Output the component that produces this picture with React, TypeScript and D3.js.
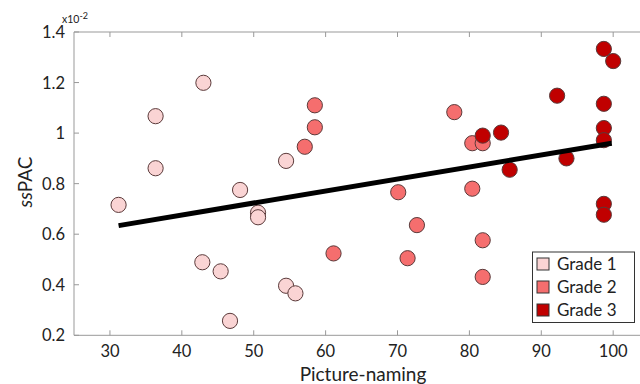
import React from "react";
import * as d3 from "d3";

const grade1X = [43, 36.35, 36.35, 48.1, 54.5, 31.2, 50.6, 50.6, 42.85, 45.4, 54.5, 55.8, 46.7];
const grade1Y = [1.199, 1.067, 0.861, 0.775, 0.89, 0.716, 0.685, 0.667, 0.489, 0.453, 0.396, 0.366, 0.257];
const grade2X = [58.5, 58.5, 57.1, 77.9, 80.4, 81.85, 70.1, 80.4, 72.7, 61.1, 71.4, 81.85, 81.85];
const grade2Y = [1.11, 1.023, 0.946, 1.083, 0.96, 0.96, 0.766, 0.78, 0.636, 0.524, 0.505, 0.576, 0.431];
const grade3X = [98.7, 100, 92.2, 98.7, 98.7, 98.7, 81.85, 84.4, 93.5, 85.6, 98.7, 98.7];
const grade3Y = [1.333, 1.285, 1.148, 1.116, 1.02, 0.972, 0.99, 1.002, 0.9, 0.855, 0.72, 0.677];
const fitX = [31.2, 99.8];
const fitY = [0.634, 0.96];
const xTicks = [30, 40, 50, 60, 70, 80, 90, 100];
const yTicks = [0.2, 0.4, 0.6, 0.8, 1, 1.2, 1.4];
const gradeNames = ["Grade 1", "Grade 2", "Grade 3"];
const gradeColors = ["#fad4d4", "#f56e6e", "#c00000"];

const FONT = "Lato, 'Open Sans', sans-serif";

export default function App() {
  const left = 74, right = 640, top = 32, bottom = 335.3;
  const x = d3.scaleLinear().domain([25, 103.73]).range([left, right]);
  const y = d3.scaleLinear().domain([0.2, 1.4]).range([bottom, top]);
  const axisColor = "#999";
  const groups = [
    { xs: grade1X, ys: grade1Y },
    { xs: grade2X, ys: grade2Y },
    { xs: grade3X, ys: grade3Y },
  ];
  const line = d3.line<number>().x((d) => x(fitX[d])).y((d) => y(fitY[d]));
  const fmt = (v: number) => (v === 1 ? "1" : d3.format(".1f")(v));
  const legX = 532.5, legY = 252, legW = 102, legH = 70.5;
  return (
    <svg width={640} height={384} style={{ position: "absolute", left: 0, top: 0, background: "#fff" }} fontFamily={FONT}>
      {/* axes */}
      <line x1={left} x2={right} y1={top} y2={top} stroke={axisColor} strokeWidth={1} />
      <line x1={left} x2={right} y1={bottom} y2={bottom} stroke={axisColor} strokeWidth={1} />
      <line x1={left} x2={left} y1={top} y2={bottom} stroke={axisColor} strokeWidth={1} />
      {xTicks.map((t) => (
        <g key={"xt" + t}>
          <line x1={x(t)} x2={x(t)} y1={bottom} y2={bottom - 5} stroke={axisColor} />
          <line x1={x(t)} x2={x(t)} y1={top} y2={top + 5} stroke={axisColor} />
          <text x={x(t)} y={357} textAnchor="middle" fontSize={16.5} fill="#222">{t}</text>
        </g>
      ))}
      {yTicks.map((t) => (
        <g key={"yt" + t}>
          <line x1={left} x2={left + 5} y1={y(t)} y2={y(t)} stroke={axisColor} />
          <text x={65} y={y(t) + 6} textAnchor="end" fontSize={16.5} fill="#222">{fmt(t)}</text>
        </g>
      ))}
      <text x={62} y={23} fontSize={10.5} fill="#222">
        x10<tspan dy={-4} fontSize={9}>-2</tspan>
      </text>
      <text x={363} y={381} textAnchor="middle" fontSize={19} fill="#222">Picture-naming</text>
      <text transform="translate(32,182) rotate(-90)" textAnchor="middle" fontSize={19} fill="#222">
        <tspan fontStyle="italic">ss</tspan>PAC
      </text>
      {/* points */}
      {groups.map((g, gi) =>
        g.xs.map((xv, i) => (
          <circle key={gi + "-" + i} cx={x(xv)} cy={y(g.ys[i])} r={7.6}
            fill={gradeColors[gi]} stroke="#5a3a3a" strokeWidth={1} />
        ))
      )}
      {/* fit line */}
      <path d={line([0, 1]) || ""} stroke="#000" strokeWidth={5} fill="none" />
      {/* legend */}
      <rect x={legX} y={legY} width={legW} height={legH} fill="#fff" stroke="#333" strokeWidth={1} />
      {gradeNames.map((n, i) => (
        <g key={n}>
          <rect x={537} y={legY + 6 + i * 23} width={12} height={12} fill={gradeColors[i]} stroke="#333" strokeWidth={1} />
          <text x={557} y={legY + 18 + i * 23} fontSize={17} fill="#222">{n}</text>
        </g>
      ))}
    </svg>
  );
}
